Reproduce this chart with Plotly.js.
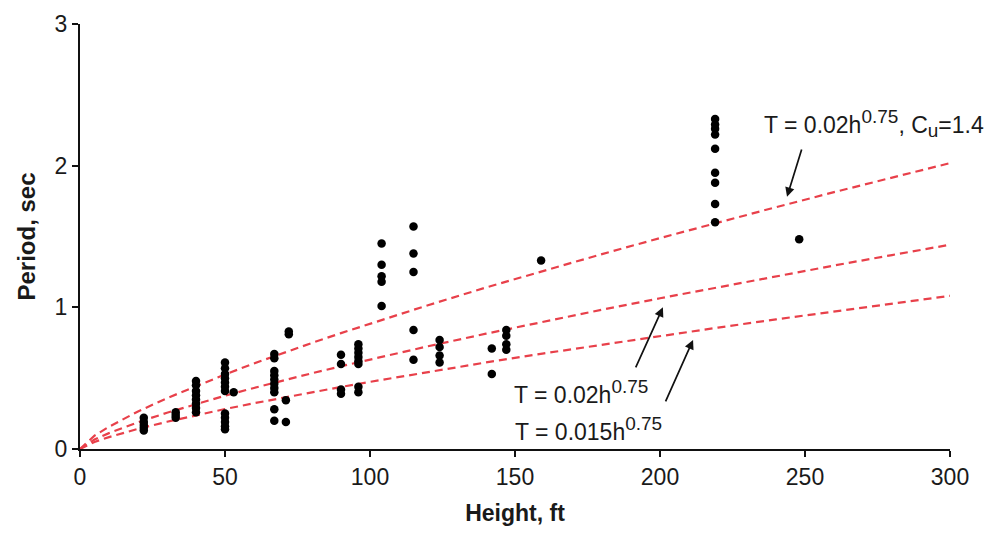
<!DOCTYPE html>
<html>
<head>
<meta charset="utf-8">
<script src="https://cdn.plot.ly/plotly-3.0.1.min.js"></script>
<style>html,body{margin:0;padding:0;background:#fff;}#chart{width:995px;height:536px;}</style>
</head>
<body>
<div id="chart"></div>
<script>
// Measured buildings: height (ft) and period (sec)
const heightFt = [
  22,22,22,22,22,
  33,33,33,
  40,40,40,40,40,40,40,40,
  50,50,50,50,50,50,50,53,
  50,50,50,50,50,
  67,67,67,67,67,67,67,67,71,67,67,71,
  72,72,
  90,90,90,90,
  96,96,96,96,96,96,96,96,
  104,104,104,104,104,
  115,115,115,115,115,
  124,124,124,124,
  142,142,
  147,147,147,147,
  159,
  219,219,219,219,219,219,219,219,219,
  248
];
const periodSec = [
  0.22,0.19,0.17,0.15,0.13,
  0.26,0.24,0.22,
  0.48,0.45,0.41,0.38,0.35,0.32,0.29,0.26,
  0.61,0.57,0.53,0.50,0.47,0.44,0.41,0.40,
  0.25,0.22,0.19,0.16,0.14,
  0.67,0.64,0.55,0.52,0.49,0.46,0.43,0.40,0.345,0.28,0.20,0.19,
  0.81,0.83,
  0.665,0.60,0.42,0.39,
  0.74,0.71,0.68,0.65,0.62,0.60,0.44,0.40,
  1.45,1.30,1.22,1.18,1.01,
  1.57,1.38,1.25,0.84,0.63,
  0.77,0.72,0.66,0.61,
  0.71,0.53,
  0.84,0.80,0.74,0.70,
  1.33,
  2.33,2.29,2.26,2.22,2.12,1.95,1.88,1.73,1.60,
  1.48
];

// Code curves
const curveH = [0,5,10,20,30,40,50,60,70,80,90,100,120,140,160,180,200,220,240,260,280,300];
const curveCu = [0,0.094,0.157,0.265,0.359,0.445,0.526,0.604,0.678,0.749,0.818,0.885,1.015,1.140,1.260,1.376,1.489,1.599,1.707,1.813,1.916,2.018];
const curve020 = [0,0.067,0.112,0.189,0.256,0.318,0.376,0.431,0.484,0.535,0.584,0.632,0.725,0.814,0.900,0.983,1.064,1.142,1.219,1.295,1.369,1.442];
const curve015 = [0,0.050,0.084,0.142,0.192,0.239,0.282,0.323,0.363,0.401,0.438,0.474,0.544,0.611,0.675,0.737,0.798,0.857,0.915,0.971,1.026,1.081];

const xTicks = [0,50,100,150,200,250,300];
const yTicks = [0,1,2,3];

const supStyle = 'font-size:19px';
const labelUpper = 'T = 0.02h<sup><span style="' + supStyle + '">0.75</span></sup>, C<sub><span style="' + supStyle + '">u</span></sub>=1.4';
const labelMid = 'T = 0.02h<sup><span style="' + supStyle + '">0.75</span></sup>';
const labelLow = 'T = 0.015h<sup><span style="' + supStyle + '">0.75</span></sup>';

const red = '#e8404a';
const lineStyle = {color: red, width: 2.2, dash: '8px,5px'};

const traces = [
  {x: curveH, y: curveCu, mode: 'lines', line: lineStyle, hoverinfo: 'skip'},
  {x: curveH, y: curve020, mode: 'lines', line: lineStyle, hoverinfo: 'skip'},
  {x: curveH, y: curve015, mode: 'lines', line: lineStyle, hoverinfo: 'skip'},
  {x: heightFt, y: periodSec, mode: 'markers', marker: {color: '#000', size: 8.5}}
];

const fam = '"Liberation Sans", Arial, sans-serif';
const txtColor = '#1a1a1a';
const arrowStyle = {showarrow: true, arrowhead: 2, arrowsize: 1.1, arrowwidth: 1.7, arrowcolor: '#111', axref: 'x', ayref: 'y', text: ''};

const layout = {
  width: 995, height: 536,
  margin: {l: 80, r: 45, t: 24, b: 87},
  paper_bgcolor: '#fff', plot_bgcolor: '#fff',
  showlegend: false,
  font: {family: fam, size: 22, color: txtColor},
  xaxis: {
    range: [0, 300], tickvals: xTicks, ticktext: xTicks.map(String),
    showgrid: false, zeroline: false, showline: true, linecolor: '#111', linewidth: 2,
    ticks: 'outside', ticklen: 6, tickwidth: 2, tickcolor: '#111',
    tickfont: {size: 23, color: txtColor},
    title: {text: '<b>Height, ft</b>', font: {size: 23, color: txtColor}, standoff: 16}
  },
  yaxis: {
    range: [0, 3], tickvals: yTicks, ticktext: yTicks.map(String),
    showgrid: false, zeroline: false, showline: true, linecolor: '#111', linewidth: 2,
    ticks: 'outside', ticklen: 6, tickwidth: 2, tickcolor: '#111',
    tickfont: {size: 23, color: txtColor},
    title: {text: '<b>Period, sec</b>', font: {size: 24, color: txtColor}, standoff: 12}
  },
  annotations: [
    Object.assign({x: 243.8, y: 1.78, ax: 249.0, ay: 2.125}, arrowStyle),
    Object.assign({x: 201.0, y: 1.00, ax: 191.4, ay: 0.565}, arrowStyle),
    Object.assign({x: 211.4, y: 0.77, ax: 201.7, ay: 0.325}, arrowStyle),
    {x: 235.2, y: 2.30, xanchor: 'left', yanchor: 'middle', showarrow: false, text: labelUpper, font: {size: 23, color: txtColor}},
    {x: 149, y: 0.40, xanchor: 'left', yanchor: 'middle', showarrow: false, text: labelMid, font: {size: 23, color: txtColor}},
    {x: 149.3, y: 0.14, xanchor: 'left', yanchor: 'middle', showarrow: false, text: labelLow, font: {size: 23, color: txtColor}}
  ]
};

Plotly.newPlot('chart', traces, layout, {staticPlot: true, displayModeBar: false});
</script>
</body>
</html>
